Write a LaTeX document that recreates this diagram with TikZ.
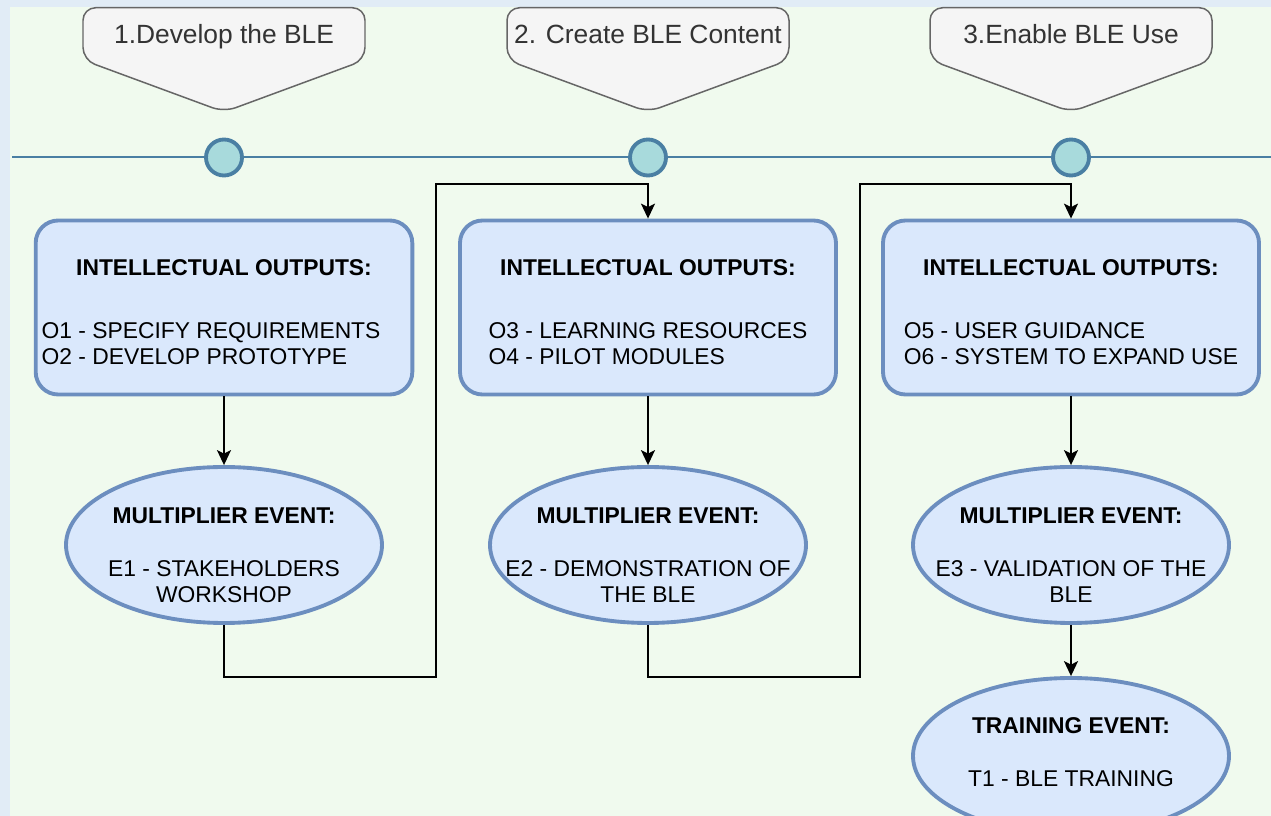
\documentclass[tikz,border=0pt]{standalone}
\usepackage{fontspec}
\setmainfont{Liberation Sans}
\usepackage{tikz}
\usetikzlibrary{positioning,arrows.meta,calc,shapes.geometric}
\definecolor{pageblue}{HTML}{E1ECF6}
\definecolor{pagegreen}{HTML}{F0FAEE}
\definecolor{boxfill}{HTML}{DAE8FC}
\definecolor{boxline}{HTML}{6C8EBF}
\definecolor{notefill}{HTML}{F5F5F5}
\definecolor{noteline}{HTML}{666666}
\definecolor{notetext}{HTML}{333333}
\definecolor{dotfill}{HTML}{A8DADC}
\definecolor{dotline}{HTML}{4A7FA3}
\tikzset{
    output/.style = {
        draw=boxline,
        fill=boxfill,
        shape=rectangle,
        rounded corners=0.45cm,
        minimum height=3.48cm,
        minimum width=7.52cm,
        line width=2.2pt,
        align=center,
        font=\fontsize{13}{14.7}\selectfont
    },
    event/.style = {
        draw=boxline,
        fill=boxfill,
        shape=ellipse,
        minimum height=3.12cm,
        minimum width=6.32cm,
        inner xsep=-1.5cm,
        inner ysep=-0.6cm,
        line width=2.2pt,
        align=center,
        font=\fontsize{13}{14.7}\selectfont
    },
    milestone/.style = {
        draw=dotline,
        fill=dotfill,
        shape=circle,
        minimum size=0.72cm,
        inner sep=0pt,
        line width=2.2pt
    },
    callout/.style = {
        draw=noteline,
        fill=notefill,
        line width=0.85pt,
        rounded corners=0.25cm
    },
    phase/.style = {
        text=notetext,
        anchor=base,
        font=\fontsize{15}{18}\selectfont
    },
    >={Stealth[length=8.5pt,width=8pt,inset=2pt]},
}

\begin{document}
\begin{tikzpicture}
    \useasboundingbox (0,0) rectangle (25.42,-16.32);
    \fill[pageblue] (0,0) rectangle (25.42,-16.32);
    \fill[pagegreen] (0.2,-0.14) rectangle (25.42,-16.32);

    % timeline
    \coordinate (tl-start) at (0.24,-3.14);
    \coordinate (tl-end) at (25.42,-3.14);
    \path[draw, dotline, line width=1.7pt] (tl-start) -- (tl-end);

    \path[callout] (1.66,-0.155) -- (7.3,-0.155) -- (7.3,-1.2) -- (4.48,-2.24)
        -- (1.66,-1.2) -- cycle;
    \path[callout] (10.14,-0.155) -- (15.78,-0.155) -- (15.78,-1.2) -- (12.96,-2.24)
        -- (10.14,-1.2) -- cycle;
    \path[callout] (18.6,-0.155) -- (24.24,-0.155) -- (24.24,-1.2) -- (21.42,-2.24)
        -- (18.6,-1.2) -- cycle;
    \node[phase] (ph1) at (4.48,-0.88) {1.Develop the BLE};
    \node[phase] (ph2) at (12.96,-0.88) {2. Create BLE Content};
    \node[phase] (ph3) at (21.42,-0.88) {3.Enable BLE Use};

    \node[milestone] (ms1) at (4.48,-3.15) {};
    \node[milestone] (ms2) at (12.96,-3.15) {};
    \node[milestone] (ms3) at (21.42,-3.15) {};

    \node[output] (io1) at (4.48,-6.15) {\rule{0pt}{18.5pt}\textbf{INTELLECTUAL OUTPUTS:}\\[24.9pt]
        \begin{tabular}{@{}l@{}}O1 - SPECIFY REQUIREMENTS\\O2 - DEVELOP PROTOTYPE\end{tabular}\hspace*{0.52cm}};
    \node[output] (io2) at (12.96,-6.15) {\rule{0pt}{18.5pt}\textbf{INTELLECTUAL OUTPUTS:}\\[24.9pt]
        \begin{tabular}{@{}l@{}}O3 - LEARNING RESOURCES\\O4 - PILOT MODULES\end{tabular}};
    \node[output] (io3) at (21.42,-6.15) {\rule{0pt}{18.5pt}\textbf{INTELLECTUAL OUTPUTS:}\\[24.9pt]
        \begin{tabular}{@{}l@{}}O5 - USER GUIDANCE\\O6 - SYSTEM TO EXPAND USE\end{tabular}};

    \node[event] (me1) at (4.48,-10.9) {\rule{0pt}{20.6pt}\textbf{MULTIPLIER EVENT:}\\[15.3pt]
        E1 - STAKEHOLDERS\\WORKSHOP};
    \node[event] (me2) at (12.96,-10.9) {\rule{0pt}{20.6pt}\textbf{MULTIPLIER EVENT:}\\[15.3pt]
        E2 - DEMONSTRATION OF\\THE BLE};
    \node[event] (me3) at (21.42,-10.9) {\rule{0pt}{20.6pt}\textbf{MULTIPLIER EVENT:}\\[15.3pt]
        E3 - VALIDATION OF THE\\BLE};
    \node[event] (te1) at (21.42,-15.12) {\textbf{TRAINING EVENT:}\\[15.8pt]
        T1 - BLE TRAINING\rule[-4.5pt]{0pt}{0pt}};

    \path[draw, line width=0.85pt, ->] (io1) -- (me1);
    \path[draw, line width=0.85pt, ->] (io2) -- (me2);
    \path[draw, line width=0.85pt, ->] (io3) -- (me3);
    \path[draw, line width=0.85pt, ->] (me3) -- (te1);

    % hand-over to the next phase
    \path[draw, line width=0.85pt, ->] (me1) |- (8.72,-13.54) |- (12.96,-3.68) -- (io2);
    \path[draw, line width=0.85pt, ->] (me2) |- (17.2,-13.54) |- (21.42,-3.68) -- (io3);
\end{tikzpicture}
\end{document}
